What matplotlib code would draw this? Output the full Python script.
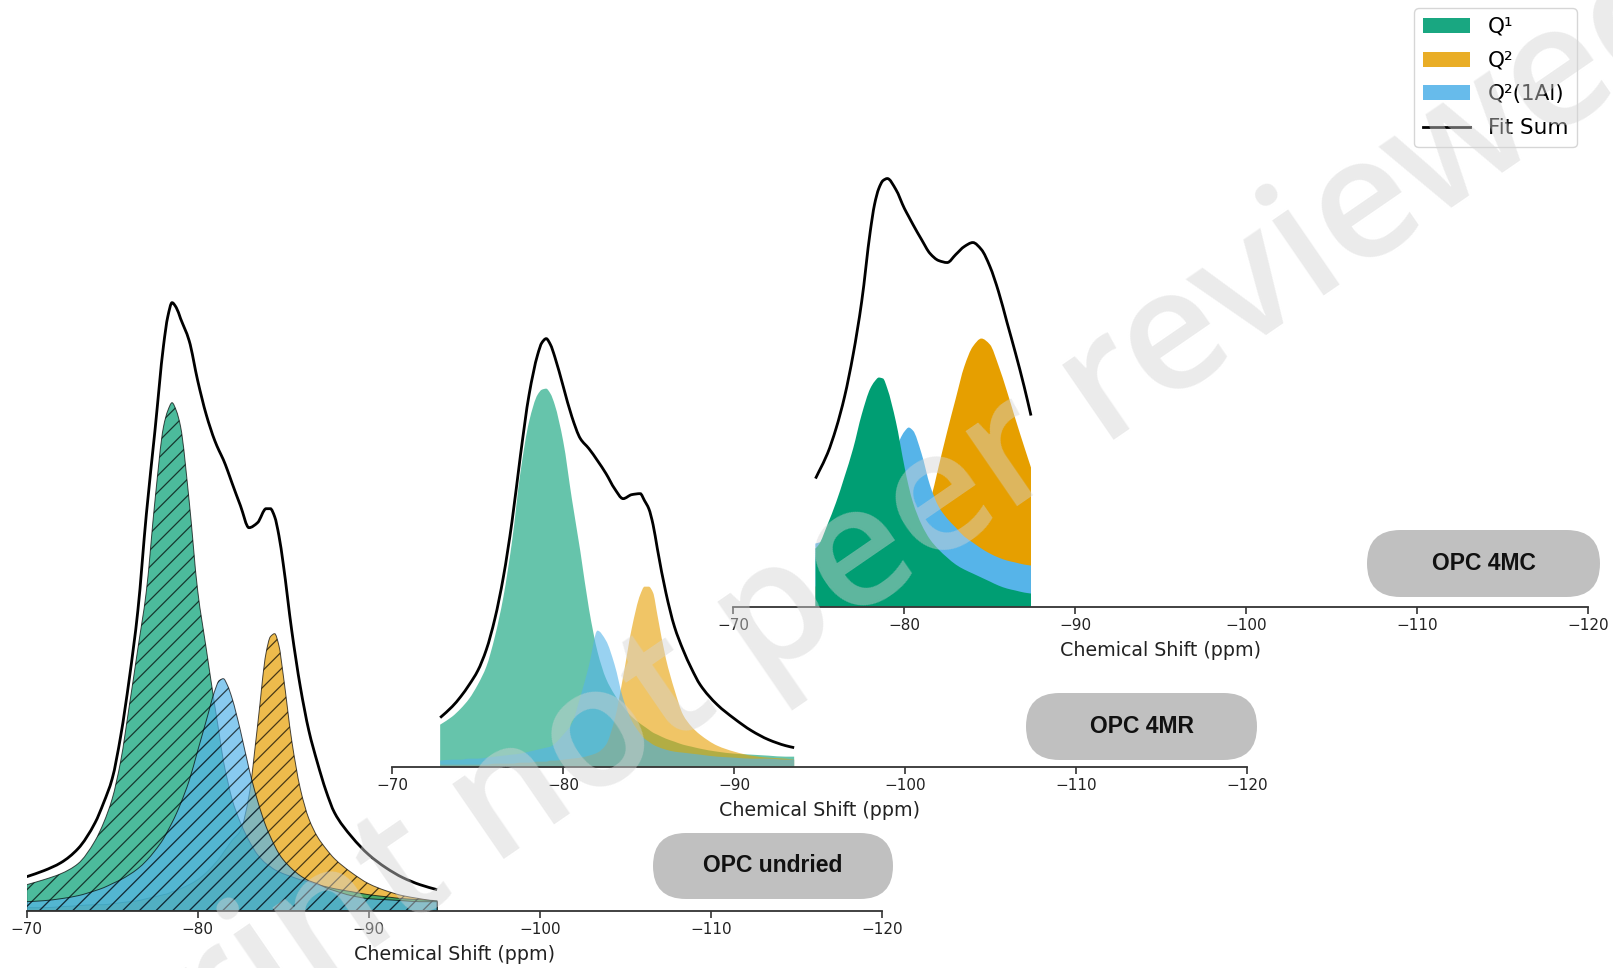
import matplotlib
matplotlib.use("Agg")
import numpy as np
import matplotlib.pyplot as plt
from matplotlib.patches import Patch, FancyBboxPatch, PathPatch
from matplotlib.lines import Line2D
from matplotlib.path import Path

# ---------------- data: 29Si NMR deconvolution (intensity, a.u.) ----------------
undried_ppm = [-70, -71, -72, -73, -74, -74.5, -75, -75.5, -76, -76.5, -77, -77.5, -78,
               -78.25, -78.5, -78.75, -79, -79.5, -80, -80.5, -81, -81.25, -81.5, -81.75, -82,
               -82.5, -83, -83.5, -84, -84.25, -84.5, -84.75, -85, -85.5, -86, -86.5, -87,
               -87.5, -88, -89, -90, -91, -92, -93, -94]
undried_q1 = [26, 31, 37, 47, 70, 88, 112, 150, 205, 262, 320, 410, 484,
              500, 508, 500, 484, 410, 320, 262, 205, 178, 150, 130, 112,
              88, 70, 56, 47, 44, 41, 39, 37, 34, 31, 29, 26,
              24, 22, 19, 16, 14, 12, 11, 10]
undried_q2 = [3, 3, 4, 5, 6, 6, 7, 8, 9, 10, 12, 14, 16,
              17, 19, 20, 22, 26, 31, 38, 47, 52, 58, 64, 70,
              80, 115, 185, 258, 274, 277, 265, 236, 170, 122, 92, 74,
              62, 52, 38, 27, 20, 15, 12, 9]
undried_q2al = [9, 10, 12, 15, 20, 23, 27, 31, 36, 42, 50, 60, 72,
                80, 88, 97, 107, 130, 160, 190, 220, 230, 232, 225, 213,
                180, 142, 110, 84, 74, 65, 57, 51, 42, 35, 30, 27,
                23, 20, 15, 12, 11, 10, 9, 9]
undried_fit = [34, 40, 48, 62, 88, 108, 132, 175, 232, 300, 397, 480, 565,
               594, 608, 603, 592, 570, 530, 496, 470, 460, 451, 440, 428,
               405, 383, 388, 402, 402, 394, 375, 347, 280, 224, 180, 148,
               120, 98, 74, 56, 43, 33, 26, 21]

mr_ppm = [-72.8, -73.5, -74, -74.5, -75, -75.5, -76, -76.5, -77, -77.5, -78, -78.5,
          -78.75, -79, -79.25, -79.5, -80, -80.5, -81, -81.5, -82, -82.5, -83, -83.5,
          -84, -84.5, -84.75, -85, -85.25, -85.5, -86, -86.5, -87, -87.5, -88,
          -89, -90, -91, -92, -93, -93.5]
mr_q1 = [42, 50, 58, 68, 82, 100, 130, 170, 225, 295, 345, 372,
         377, 378, 373, 362, 325, 268, 215, 158, 115, 88, 72, 60,
         50, 43, 40, 37, 34, 32, 28, 25, 22, 20, 18,
         15, 13, 12, 11, 10, 10]
mr_q2 = [2, 2, 2, 2, 2, 2, 3, 3, 3, 4, 4, 5,
         5, 5, 6, 6, 7, 8, 9, 11, 14, 22, 47, 90,
         138, 172, 180, 180, 174, 152, 108, 77, 52, 40, 32,
         21, 15, 11, 9, 8, 7]
mr_q2al = [6, 7, 7, 8, 8, 9, 10, 11, 12, 13, 15, 17,
           18, 19, 20, 23, 32, 43, 70, 101, 136, 126, 102, 68,
           46, 33, 28, 25, 22, 20, 17, 15, 14, 13, 12,
           10, 9, 8, 8, 7, 7]
mr_fit = [49, 60, 70, 82, 96, 117, 148, 190, 245, 312, 372, 412,
          424, 428, 422, 410, 380, 350, 328, 318, 306, 293, 278, 268,
          272, 273, 266, 258, 242, 218, 174, 140, 117, 98, 82,
          62, 48, 36, 27, 21, 19]

mc_ppm = [-74.8, -75, -75.5, -76, -76.5, -77, -77.5, -78, -78.25, -78.5, -78.75, -79,
          -79.5, -80, -80.25, -80.5, -81, -81.5, -82, -82.5, -83, -83.5, -84, -84.5,
          -85, -85.5, -86, -86.5, -87, -87.4]
mc_q1 = [58, 62, 82, 104, 130, 158, 192, 218, 225, 229, 228, 218,
         185, 140, 120, 104, 82, 67, 57, 49, 42, 37, 33, 29,
         25, 21, 18, 16, 14, 13]
mc_q2 = [20, 21, 22, 24, 26, 28, 31, 34, 36, 38, 40, 42,
         47, 55, 60, 65, 80, 105, 140, 175, 208, 240, 260, 268,
         262, 241, 215, 187, 160, 139]
mc_q2al = [63, 64, 67, 72, 77, 84, 92, 102, 108, 116, 125, 136,
           158, 175, 179, 176, 153, 121, 100, 88, 79, 70, 64, 58,
           53, 49, 46, 44, 42, 41]
mc_fit = [128, 135, 153, 178, 210, 252, 305, 375, 402, 418, 426, 428,
          417, 398, 390, 382, 367, 353, 346, 344, 352, 360, 364, 357,
          340, 315, 284, 253, 220, 191]

sample_names = ["OPC undried", "OPC 4MR", "OPC 4MC"]
series_labels = ["Q\u00b9", "Q\u00b2", "Q\u00b2(1Al)", "Fit Sum"]
x_ticks = [-70, -80, -90, -100, -110, -120]

# ---------------- styling ----------------
C_Q1 = "#009E73"
C_Q2 = "#E69F00"
C_Q2AL = "#56B4E9"

plt.rcParams["font.family"] = ["DejaVu Sans"]
plt.rcParams["hatch.linewidth"] = 0.9


def spectrum_path(x, y, close=False):
    """Smooth (monotone cubic) Bezier path through the sampled spectrum points."""
    x = np.asarray(x, float)
    y = np.asarray(y, float)
    h = np.diff(x)
    d = np.diff(y) / h
    m = np.zeros_like(y)
    for i in range(1, len(y) - 1):
        if d[i - 1] * d[i] > 0:
            w1 = 2 * h[i] + h[i - 1]
            w2 = h[i] + 2 * h[i - 1]
            m[i] = (w1 + w2) / (w1 / d[i - 1] + w2 / d[i])
    m[0], m[-1] = d[0], d[-1]
    verts = [(x[0], y[0])]
    codes = [Path.MOVETO]
    for i in range(len(x) - 1):
        verts += [(x[i] + h[i] / 3, y[i] + m[i] * h[i] / 3),
                  (x[i + 1] - h[i] / 3, y[i + 1] - m[i + 1] * h[i] / 3),
                  (x[i + 1], y[i + 1])]
        codes += [Path.CURVE4] * 3
    if close:
        verts += [(x[-1], 0), (x[0], 0), (x[0], y[0])]
        codes += [Path.LINETO, Path.LINETO, Path.CLOSEPOLY]
    return Path(verts, codes)


fig = plt.figure(figsize=(16.13, 9.68), dpi=100)

AX_W, AX_H = 0.5301, 0.6405
panels = [
    dict(ppm=undried_ppm, q1=undried_q1, q2=undried_q2, q2al=undried_q2al, fit=undried_fit,
         rect=[0.01655, 0.0592, AX_W, AX_H], alpha=0.7, hatch="//",
         order=("q2", "q1", "q2al"), pill=(6.53, 0.69, 2.40, 0.66)),
    dict(ppm=mr_ppm, q1=mr_q1, q2=mr_q2, q2al=mr_q2al, fit=mr_fit,
         rect=[0.2432, 0.2080, AX_W, AX_H], alpha=0.6, hatch=None,
         order=("q1", "q2", "q2al"), pill=(10.26, 2.08, 2.31, 0.67)),
    dict(ppm=mc_ppm, q1=mc_q1, q2=mc_q2, q2al=mc_q2al, fit=mc_fit,
         rect=[0.4547, 0.3734, AX_W, AX_H], alpha=1.0, hatch=None,
         order=("q2", "q2al", "q1"), pill=(13.67, 3.71, 2.33, 0.67)),
]
colors = {"q1": C_Q1, "q2": C_Q2, "q2al": C_Q2AL}

for name, p in zip(sample_names, panels):
    ax = fig.add_axes(p["rect"])
    ax.patch.set_visible(False)
    for key in p["order"]:
        area = spectrum_path(p["ppm"], p[key], close=True)
        if p["hatch"]:
            patch = PathPatch(area, facecolor=colors[key], alpha=p["alpha"],
                              hatch=p["hatch"], edgecolor="black", linewidth=0.7)
        else:
            patch = PathPatch(area, facecolor=colors[key], alpha=p["alpha"], linewidth=0)
        ax.add_patch(patch)
    ax.add_patch(PathPatch(spectrum_path(p["ppm"], p["fit"]), fill=False,
                           edgecolor="black", lw=2.0, capstyle="butt"))

    ax.set_xlim(-70, -120)
    ax.set_ylim(0, 620)
    ax.set_xticks(x_ticks)
    ax.set_yticks([])
    for side in ("top", "left", "right"):
        ax.spines[side].set_visible(False)
    ax.spines["bottom"].set_linewidth(1.3)
    ax.spines["bottom"].set_color("#333333")
    ax.tick_params(axis="x", labelsize=11, width=1.2, length=5, color="#333333",
                   labelcolor="#222222")
    ax.set_xlabel("Chemical Shift (ppm)", fontsize=13.7, color="#222222", labelpad=5.5)

    # sample tag
    x0, y0, w, h = p["pill"]
    pill = FancyBboxPatch((x0, y0), w, h, boxstyle=f"round,pad=0,rounding_size={h / 2}",
                          transform=fig.dpi_scale_trans, facecolor="#c0c0c0",
                          edgecolor="none", zorder=5)
    fig.add_artist(pill)
    fig.text(x0 + w / 2, y0 + h / 2, name, transform=fig.dpi_scale_trans,
             ha="center", va="center", fontsize=16.5, fontweight="bold",
             family="Liberation Sans", color="#111111", zorder=6)

handles = [Patch(facecolor=C_Q1, alpha=0.9, edgecolor="none"),
           Patch(facecolor=C_Q2, alpha=0.85, edgecolor="none"),
           Patch(facecolor=C_Q2AL, alpha=0.9, edgecolor="none"),
           Line2D([], [], color="black", lw=2.0)]
fig.legend(handles, series_labels, loc="upper right", bbox_to_anchor=(0.9775, 0.9914),
           fontsize=15.5, labelspacing=0.64, borderaxespad=0, handlelength=2.2,
           frameon=True, edgecolor="#cccccc")

# preprint watermark
fig.text(0.485, 0.365, "Preprint not peer reviewed", rotation=34.5, rotation_mode="anchor",
         ha="center", va="center", fontsize=122, fontweight="semibold", family="Open Sans",
         color="#d4d4d4", alpha=0.45, zorder=20)

fig.savefig("out.png", dpi=100)
